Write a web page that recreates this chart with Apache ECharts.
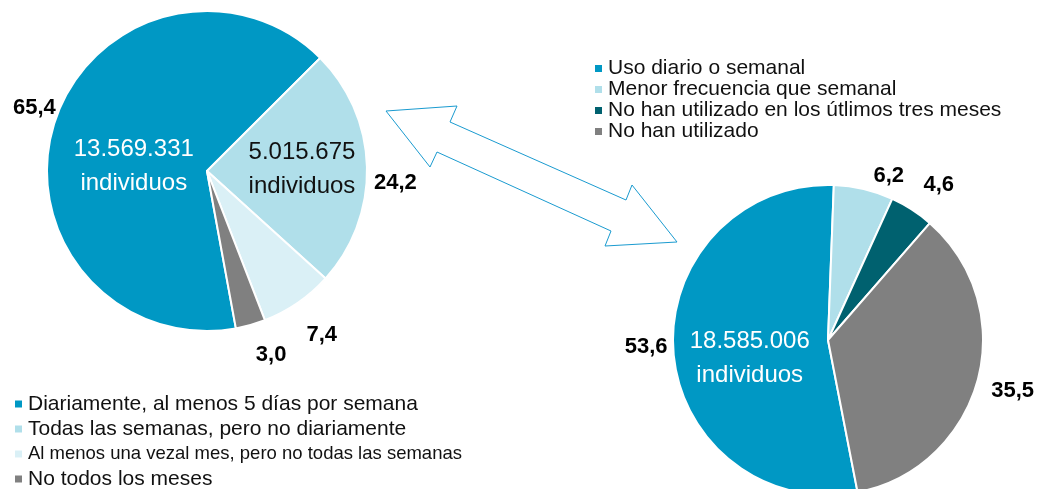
<!DOCTYPE html>
<html>
<head>
<meta charset="utf-8">
<script src="https://cdn.jsdelivr.net/npm/echarts@6/dist/echarts.min.js"></script>
<style>
html, body { margin: 0; padding: 0; background: #fff; }
#chart { width: 1040px; height: 489px; }
</style>
</head>
<body>
<div id="chart"></div>
<script>
// left pie: frecuencia de uso
const leftNames = ['Diariamente, al menos 5 días por semana', 'Todas las semanas, pero no diariamente', 'Al menos una vezal mes, pero no todas las semanas', 'No todos los meses'];
const leftValues = [65.4, 24.2, 7.4, 3.0];
const leftCounts = ['13.569.331', '5.015.675', '', ''];
// right pie: uso en los últimos meses
const rightNames = ['Uso diario o semanal', 'Menor frecuencia que semanal', 'No han utilizado en los útlimos tres meses', 'No han utilizado'];
const rightValues = [53.6, 6.2, 4.6, 35.5];
const rightCounts = ['18.585.006', '', '', ''];

const leftColors = ['#0098C4', '#B0DFEA', '#DAF0F6', '#808080'];
const rightColors = ['#0098C4', '#B0DFEA', '#00616F', '#808080'];
const FONT = 'Liberation Sans, Arial, sans-serif';

// label nudges (px) so they sit where excel put them
const leftPctShift = [[18, -12], [-10, 16], [-3, 22], [-3, 18]];
const rightPctShift = [[11, -6], [2, -2], [0, -15], [-3, 8]];
const leftCountShift = [[6, 20], [12, 0], [0, 0], [0, 0]];
const rightCountShift = [[2, 12], [0, 0], [0, 0], [0, 0]];

function fmt(v) { return v.toFixed(1).replace('.', ','); }

function mainSeries(center, radius, start, names, values, colors, shift) {
  return {
    type: 'pie', center: center, radius: radius, startAngle: start,
    avoidLabelOverlap: false, silent: true,
    itemStyle: { borderColor: '#fff', borderWidth: 2 },
    label: {
      position: 'outside', fontFamily: FONT, fontSize: 22, fontWeight: 'bold', color: '#000',
      formatter: p => fmt(p.value)
    },
    labelLine: { show: false, length: 12, length2: 0 },
    labelLayout: p => ({ dx: shift[p.dataIndex][0], dy: shift[p.dataIndex][1] }),
    data: names.map((n, i) => ({ name: n, value: values[i], itemStyle: { color: colors[i] } }))
  };
}
function countSeries(center, radius, start, names, values, counts, ink, shift) {
  return {
    type: 'pie', center: center, radius: radius, startAngle: start,
    avoidLabelOverlap: false, silent: true,
    itemStyle: { color: 'rgba(0,0,0,0)' },
    label: {
      position: 'inside', fontFamily: FONT, fontSize: 24, lineHeight: 34,
      formatter: p => counts[p.dataIndex] + '\nindividuos'
    },
    labelLine: { show: false },
    labelLayout: p => ({ dx: shift[p.dataIndex][0], dy: shift[p.dataIndex][1] }),
    data: names.map((n, i) => ({
      name: n, value: values[i],
      label: { show: counts[i] !== '', color: ink[i] }
    }))
  };
}

const chart = echarts.init(document.getElementById('chart'));
chart.setOption({
  backgroundColor: '#fff',
  animation: false,
  textStyle: { fontFamily: FONT },
  legend: [
    {
      data: leftNames, orient: 'vertical', left: 8, top: 388, height: 150,
      icon: 'rect', itemWidth: 9, itemHeight: 9, itemGap: 3,
      textStyle: {
        fontSize: 21, color: '#111', lineHeight: 22,
        rich: { s: { fontSize: 18.5, color: '#111', lineHeight: 22 } }
      },
      formatter: n => n === leftNames[2] ? '{s|' + n + '}' : n
    },
    {
      data: rightNames, orient: 'vertical', left: 588, top: 53, height: 150,
      icon: 'rect', itemWidth: 9, itemHeight: 9, itemGap: 0,
      textStyle: { fontSize: 21, color: '#111', lineHeight: 21 }
    }
  ],
  graphic: [{
    type: 'polygon', z: 10,
    shape: {
      points: [[386, 111], [457, 106], [450, 122], [626, 200], [632, 185],
               [677, 242], [605, 246], [611, 231], [437, 152], [430, 167]]
    },
    style: { fill: '#fff', stroke: '#1A9BD0', lineWidth: 1 }
  }],
  series: [
    mainSeries([207, 171], 160, 280.4, leftNames, leftValues, leftColors, leftPctShift),
    countSeries([207, 171], 160, 280.4, leftNames, leftValues, leftCounts, ['#fff', '#111', '#111', '#111'], leftCountShift),
    mainSeries([828, 340], 155, 281, rightNames, rightValues, rightColors, rightPctShift),
    countSeries([828, 340], 155, 281, rightNames, rightValues, rightCounts, ['#fff', '#111', '#111', '#111'], rightCountShift)
  ]
});
</script>
</body>
</html>
